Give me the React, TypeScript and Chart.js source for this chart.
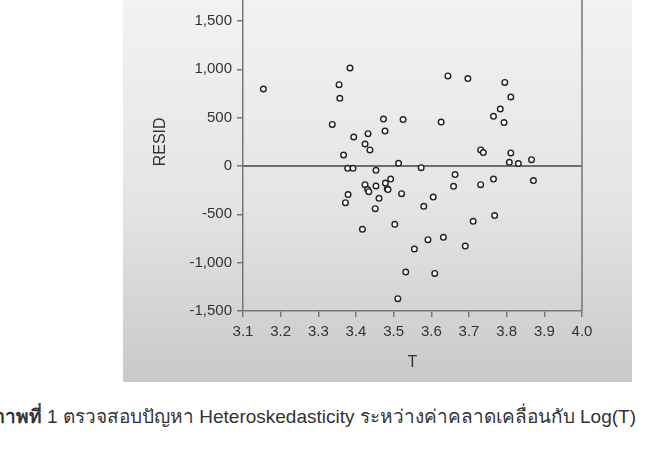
import React, { useEffect, useRef } from 'react';
import { Chart, registerables } from 'chart.js';

Chart.register(...registerables);

const tValues = [
  3.154, 3.384, 3.355, 3.357, 3.337, 3.473, 3.477, 3.525, 3.394, 3.432,
  3.424, 3.437, 3.367, 3.513, 3.378, 3.392, 3.453, 3.644, 3.697, 3.626,
  3.731, 3.738, 3.573, 3.795, 3.811, 3.783, 3.765, 3.793, 3.811, 3.807,
  3.831, 3.866, 3.424, 3.431, 3.434, 3.453, 3.478, 3.492, 3.483, 3.485,
  3.521, 3.379, 3.372, 3.461, 3.451, 3.417, 3.503, 3.511, 3.663, 3.659,
  3.731, 3.765, 3.605, 3.580, 3.711, 3.591, 3.632, 3.555, 3.690, 3.532,
  3.609, 3.871, 3.768,
];

const residValues = [
  797, 1014, 842, 700, 430, 486, 362, 480, 300, 335,
  228, 166, 114, 28, -24, -24, -45, 932, 905, 455,
  166, 139, -17, 865, 714, 590, 514, 449, 135, 38,
  25, 66, -193, -244, -265, -207, -176, -135, -234, -244,
  -286, -296, -379, -334, -441, -655, -603, -1372, -89, -210,
  -193, -135, -321, -417, -572, -762, -738, -859, -828, -1097,
  -1111, -151, -513,
];

const xRange = [3.1, 4.0];
const xStep = 0.1;
const yRange = [-1500, 2000];
const yStep = 500;
const referenceLineY = 0;

const xTitle = 'T';
const yTitle = 'RESID';
const captionBold = 'ภาพที่';
const captionRest = ' 1 ตรวจสอบปัญหา Heteroskedasticity ระหว่างค่าคลาดเคลื่อนกับ Log(T)';

const FONT = "'Liberation Sans', Arial, sans-serif";
const TEXT = '#333333';
const AXIS = '#777777';

const rightBorder = {
  id: 'rightBorder',
  afterDatasetsDraw(chart: any) {
    const { ctx, chartArea } = chart;
    ctx.save();
    ctx.strokeStyle = AXIS;
    ctx.lineWidth = 1.5;
    ctx.beginPath();
    ctx.moveTo(chartArea.right, chartArea.top);
    ctx.lineTo(chartArea.right, chartArea.bottom);
    ctx.stroke();
    ctx.restore();
  },
};

export default function App() {
  const ref = useRef<HTMLCanvasElement | null>(null);

  useEffect(() => {
    if (!ref.current) return;
    const points = tValues.map((t, i) => ({ x: t, y: residValues[i] }));
    const chart = new Chart(ref.current, {
      type: 'scatter',
      data: {
        datasets: [
          {
            type: 'scatter',
            data: points,
            order: 1,
            pointRadius: 2.8,
            pointBorderWidth: 1.4,
            borderColor: '#222222',
            backgroundColor: '#ffffff',
          },
          {
            type: 'line',
            data: [
              { x: xRange[0], y: referenceLineY },
              { x: xRange[1], y: referenceLineY },
            ],
            order: 2,
            borderColor: '#6e6e6e',
            borderWidth: 2,
            pointRadius: 0,
            fill: false,
          } as any,
        ],
      },
      options: {
        animation: false,
        responsive: false,
        maintainAspectRatio: false,
        layout: { padding: { top: 32.7, right: 50, bottom: 0, left: 0 } },
        plugins: { legend: { display: false }, tooltip: { enabled: false } },
        events: [],
        scales: {
          x: {
            type: 'linear',
            min: xRange[0],
            max: xRange[1],
            ticks: {
              stepSize: xStep,
              callback: (v: any) => Number(v).toFixed(1),
              font: { family: FONT, size: 15 },
              color: TEXT,
              padding: 6,
              maxRotation: 0,
              autoSkip: false,
            },
            grid: {
              display: true,
              drawOnChartArea: false,
              drawTicks: true,
              tickLength: 6,
              color: AXIS,
              lineWidth: 1.5,
            },
            border: { display: true, color: AXIS, width: 1.5 },
            title: {
              display: true,
              text: xTitle,
              font: { family: FONT, size: 16 },
              color: TEXT,
              padding: { top: 0, bottom: 10 },
            },
            afterFit: (s: any) => {
              s.height = 71;
            },
          },
          y: {
            type: 'linear',
            min: yRange[0],
            max: yRange[1],
            ticks: {
              stepSize: yStep,
              callback: (v: any) => Number(v).toLocaleString('en-US'),
              font: { family: FONT, size: 15 },
              color: TEXT,
              padding: 5,
            },
            grid: {
              display: true,
              drawOnChartArea: false,
              drawTicks: true,
              tickLength: 6,
              color: AXIS,
              lineWidth: 1.5,
            },
            border: { display: true, color: AXIS, width: 1.5 },
            title: {
              display: true,
              text: yTitle,
              font: { family: FONT, size: 16 },
              color: TEXT,
              padding: { top: 28, bottom: 0 },
            },
            afterFit: (s: any) => {
              s.width = 120;
            },
          },
        },
      },
      plugins: [rightBorder],
    });
    return () => chart.destroy();
  }, []);

  return (
    <div
      style={{
        position: 'fixed',
        left: 0,
        top: 0,
        width: 650,
        height: 450,
        overflow: 'hidden',
        background: '#ffffff',
      }}
    >
      <div
        style={{
          position: 'absolute',
          left: 123,
          top: -10,
          width: 509,
          height: 392,
          background: 'linear-gradient(to bottom, #f3f3f3 0%, #e4e4e4 55%, #c9c9c9 100%)',
        }}
      />
      <canvas
        ref={ref}
        width={509}
        height={442}
        style={{ position: 'absolute', left: 123, top: -60, width: 509, height: 442 }}
      />
      <div
        style={{
          position: 'absolute',
          right: 14,
          top: 401,
          whiteSpace: 'nowrap',
          fontFamily: FONT,
          fontSize: 19,
          color: TEXT,
        }}
      >
        <b>{captionBold}</b>
        {captionRest}
      </div>
    </div>
  );
}
